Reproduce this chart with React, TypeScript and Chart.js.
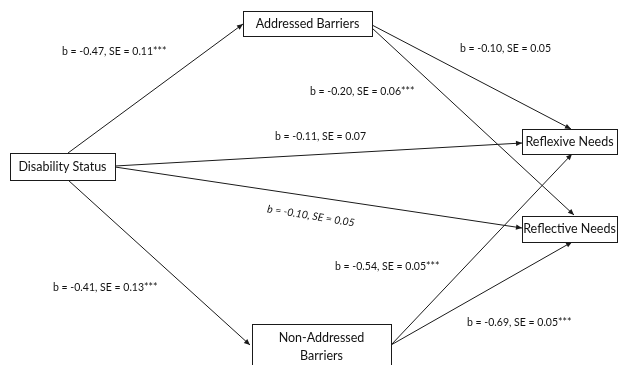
import React, { useEffect, useRef } from "react";
import { Chart, registerables } from "chart.js";

Chart.register(...registerables);

// ---- data ----
const nodeNames = ["Disability Status", "Addressed Barriers", "Non-Addressed Barriers", "Reflexive Needs", "Reflective Needs"];
const nodeLines = [["Disability Status"], ["Addressed Barriers"], ["Non-Addressed", "Barriers"], ["Reflexive Needs"], ["Reflective Needs"]];
const edgeFrom = [0, 0, 0, 0, 1, 1, 2, 2];
const edgeTo = [1, 3, 4, 2, 3, 4, 3, 4];
const bValues = [-0.47, -0.11, -0.10, -0.41, -0.10, -0.20, -0.54, -0.69];
const seValues = [0.11, 0.07, 0.05, 0.13, 0.05, 0.06, 0.05, 0.05];
const sigStars = ["***", "", "", "***", "", "***", "***", "***"];

// ---- layout (diagram coordinates) ----
const nodeBox = [
  [10, 153, 115, 180],
  [243, 11, 372, 36],
  [252, 324, 391, 372],
  [522, 129, 617, 154],
  [522, 216, 617, 242],
];
const nodeTextY = [[167], [24], [338, 356], [142], [229]];
const edgeStart = [[68, 153], [115, 166], [115, 167], [68, 180], [372, 25], [372, 28], [391, 345], [391, 345]];
const edgeEnd = [[243, 24], [522, 143], [522, 228], [250, 345], [571, 129], [574, 215], [572, 154], [572, 242]];
const labelPos = [[62, 52], [275, 137], [311, 216], [53, 288], [460, 49], [310, 92], [335, 267], [467, 323]];
const labelAlign = ["left", "left", "center", "left", "left", "left", "left", "left"];
const labelItalic = [false, false, true, false, false, false, false, false];
const labelAngle = [0, 0, 9.3, 0, 0, 0, 0, 0];

const FONT = "Lato, 'Open Sans', sans-serif";

const diagramPlugin = {
  id: "diagram",
  afterDatasetsDraw(chart: any) {
    const ctx = chart.ctx;
    const xs = chart.scales.x;
    const ys = chart.scales.y;
    const px = (v: number) => xs.getPixelForValue(v);
    const py = (v: number) => ys.getPixelForValue(v);
    ctx.save();
    // arrowheads
    chart.data.datasets.forEach((ds: any, i: number) => {
      const meta = chart.getDatasetMeta(i);
      const p0 = meta.data[0];
      const p1 = meta.data[1];
      const ang = Math.atan2(p1.y - p0.y, p1.x - p0.x);
      const L = 6, W = 2.6;
      ctx.beginPath();
      ctx.moveTo(p1.x, p1.y);
      ctx.lineTo(p1.x - L * Math.cos(ang) + W * Math.sin(ang), p1.y - L * Math.sin(ang) - W * Math.cos(ang));
      ctx.lineTo(p1.x - L * Math.cos(ang) - W * Math.sin(ang), p1.y - L * Math.sin(ang) + W * Math.cos(ang));
      ctx.closePath();
      ctx.fillStyle = "#1a1a1a";
      ctx.fill();
    });
    // boxes
    nodeNames.forEach((name, i) => {
      const [x0, y0, x1, y1] = nodeBox[i];
      const X0 = px(x0), Y0 = py(y0), X1 = px(x1), Y1 = py(y1);
      ctx.fillStyle = "#ffffff";
      ctx.fillRect(X0, Y0, X1 - X0, Y1 - Y0);
      ctx.strokeStyle = "#1a1a1a";
      ctx.lineWidth = 1;
      ctx.strokeRect(Math.round(X0) + 0.5, Math.round(Y0) + 0.5, Math.round(X1 - X0), Math.round(Y1 - Y0));
      ctx.fillStyle = "#111111";
      ctx.font = `12.5px ${FONT}`;
      ctx.textAlign = "center";
      ctx.textBaseline = "middle";
      nodeLines[i].forEach((ln, k) => {
        ctx.fillText(ln, (X0 + X1) / 2, py(nodeTextY[i][k]));
      });
    });
    // edge labels
    bValues.forEach((b, i) => {
      const txt = `b = ${b.toFixed(2)}, SE = ${seValues[i].toFixed(2)}${sigStars[i]}`;
      ctx.save();
      ctx.translate(px(labelPos[i][0]), py(labelPos[i][1]));
      ctx.rotate((labelAngle[i] * Math.PI) / 180);
      ctx.font = `${labelItalic[i] ? "italic " : ""}10.5px ${FONT}`;
      ctx.fillStyle = "#111111";
      ctx.textAlign = labelAlign[i] as any;
      ctx.textBaseline = "middle";
      ctx.fillText(txt, 0, 0);
      ctx.restore();
    });
    ctx.restore();
  },
};

export default function App() {
  const ref = useRef<HTMLCanvasElement>(null);
  useEffect(() => {
    if (!ref.current) return;
    const datasets = bValues.map((_, i) => ({
      label: `${nodeNames[edgeFrom[i]]} → ${nodeNames[edgeTo[i]]}`,
      data: [
        { x: edgeStart[i][0], y: edgeStart[i][1] },
        { x: edgeEnd[i][0], y: edgeEnd[i][1] },
      ],
      showLine: true,
      borderColor: "#1a1a1a",
      borderWidth: 1,
      pointRadius: 0,
      pointHoverRadius: 0,
      clip: false as any,
    }));
    const chart = new Chart(ref.current, {
      type: "scatter",
      data: { datasets },
      options: {
        animation: false,
        responsive: true,
        maintainAspectRatio: false,
        layout: { padding: 0 },
        events: [],
        scales: {
          x: { type: "linear", min: 0, max: 621, display: false },
          y: { type: "linear", min: 0, max: 365, reverse: true, display: false },
        },
        plugins: { legend: { display: false }, tooltip: { enabled: false } },
      },
      plugins: [diagramPlugin],
    });
    return () => chart.destroy();
  }, []);
  return (
    <div style={{ position: "fixed", left: 0, top: 0, width: 621, height: 365, background: "#fff" }}>
      <canvas ref={ref} />
    </div>
  );
}
